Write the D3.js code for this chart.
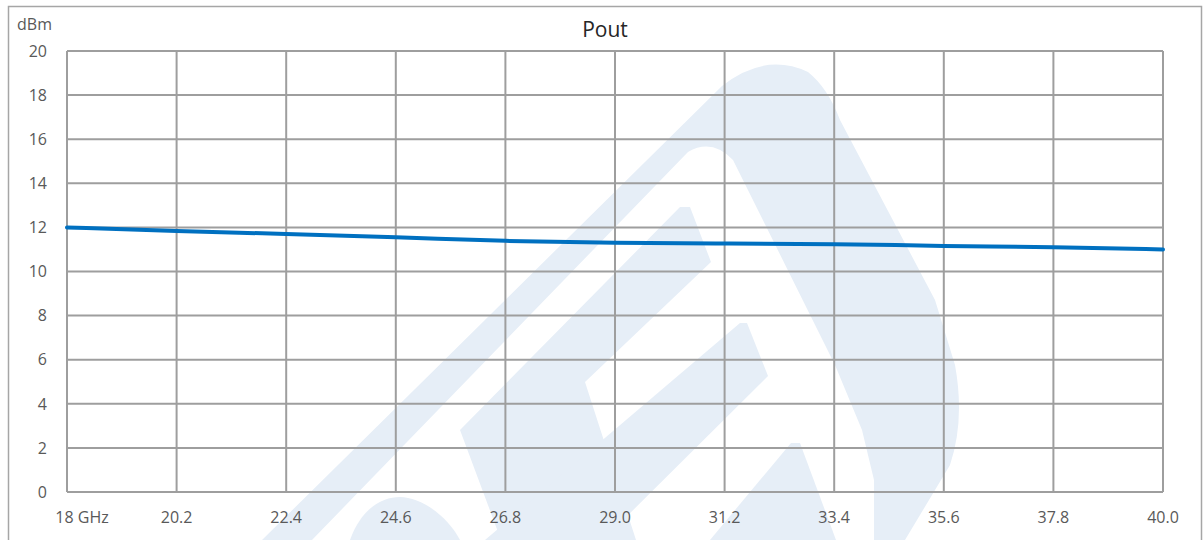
<!DOCTYPE html>
<html>
<head>
<meta charset="utf-8">
<script src="https://cdn.jsdelivr.net/npm/d3@7"></script>
<style>
  body { margin: 0; background: #fff; }
  svg { display: block; font-family: "Open Sans", sans-serif; }
</style>
</head>
<body>
<div id="chart"></div>
<script>
// data
let freqs = [18, 20.2, 22.4, 24.6, 26.8, 29.0, 31.2, 33.4, 35.6, 37.8, 40.0];
let pout = [12.0, 11.84, 11.7, 11.55, 11.39, 11.3, 11.27, 11.24, 11.16, 11.1, 11.0];
let xTickLabels = ["18 GHz", "20.2", "22.4", "24.6", "26.8", "29.0", "31.2", "33.4", "35.6", "37.8", "40.0"];
let yTicks = [0, 2, 4, 6, 8, 10, 12, 14, 16, 18, 20];

let width = 1204,
    height = 540,
    margin = {top: 51, right: 41, bottom: 48, left: 67};

let svg = d3.select("#chart")
    .append("svg")
    .attr("width", width)
    .attr("height", height);

// faint logo watermark in the background
let wm = svg.append("g").attr("fill", "#e6eef7");
wm.append("path")
    .attr("fill-rule", "evenodd")
    .attr("d", "M262,540 L722,86 Q765,52 808,72 Q828,88 840,120 L935,300 L955,365 Q965,420 950,465 L905,540 Z " +
               "M312,540 L688,152 Q712,138 733,160 L835,365 L862,430 L874,480 L874,540 Z");
wm.append("path").attr("d", "M680,207 L690,207 L711,262 L585,382 L636,540 L501,540 L460,430 Z");
wm.append("path").attr("d", "M740,323 L747,323 L768,376 L603,540 L485,540 Z");
wm.append("path").attr("d", "M791,443 L800,443 L836,540 L710,540 Z");
wm.append("path").attr("d", "M350,540 C362,507 383,497 400,497 C420,497 447,515 460,540 Z");

// outer frame
svg.append("rect")
    .attr("x", 8.5).attr("y", 6.5)
    .attr("width", 1193).attr("height", 600)
    .attr("fill", "none")
    .attr("stroke", "#a6a6a6")
    .attr("stroke-width", 1.5);

let x = d3.scaleLinear()
    .domain([18, 40])
    .range([margin.left, width - margin.right]);

let y = d3.scaleLinear()
    .domain([0, 20])
    .range([height - margin.bottom, margin.top]);

// grid
let grid = svg.append("g")
    .attr("stroke", "#9e9e9e")
    .attr("stroke-width", 2);

grid.selectAll(".h")
    .data(yTicks)
    .enter().append("line")
    .attr("x1", x(18)).attr("x2", x(40))
    .attr("y1", d => y(d)).attr("y2", d => y(d));

grid.selectAll(".v")
    .data(freqs)
    .enter().append("line")
    .attr("x1", d => x(d)).attr("x2", d => x(d))
    .attr("y1", y(0)).attr("y2", y(20));

// y labels
svg.append("g")
    .selectAll("text")
    .data(yTicks)
    .enter().append("text")
    .attr("x", 47)
    .attr("y", d => y(d))
    .attr("dy", "0.36em")
    .attr("text-anchor", "end")
    .attr("fill", "#595959")
    .attr("font-size", 16)
    .text(d => d);

// x labels
svg.append("g")
    .selectAll("text")
    .data(freqs)
    .enter().append("text")
    .attr("x", (d, i) => i == 0 ? x(d) + 15 : x(d))
    .attr("y", 523)
    .attr("text-anchor", "middle")
    .attr("fill", "#595959")
    .attr("font-size", 16)
    .text((d, i) => xTickLabels[i]);

// unit + title
svg.append("text")
    .attr("x", 17).attr("y", 30)
    .attr("fill", "#595959")
    .attr("font-size", 16)
    .text("dBm");

svg.append("text")
    .attr("x", 605).attr("y", 37)
    .attr("text-anchor", "middle")
    .attr("fill", "#262626")
    .attr("font-size", 21)
    .text("Pout");

// the series
let line = d3.line()
    .x((d, i) => x(freqs[i]))
    .y(d => y(d))
    .curve(d3.curveMonotoneX);

svg.append("path")
    .datum(pout)
    .attr("fill", "none")
    .attr("stroke", "#0070c0")
    .attr("stroke-width", 4)
    .attr("stroke-linecap", "round")
    .attr("d", line);
</script>
</body>
</html>
